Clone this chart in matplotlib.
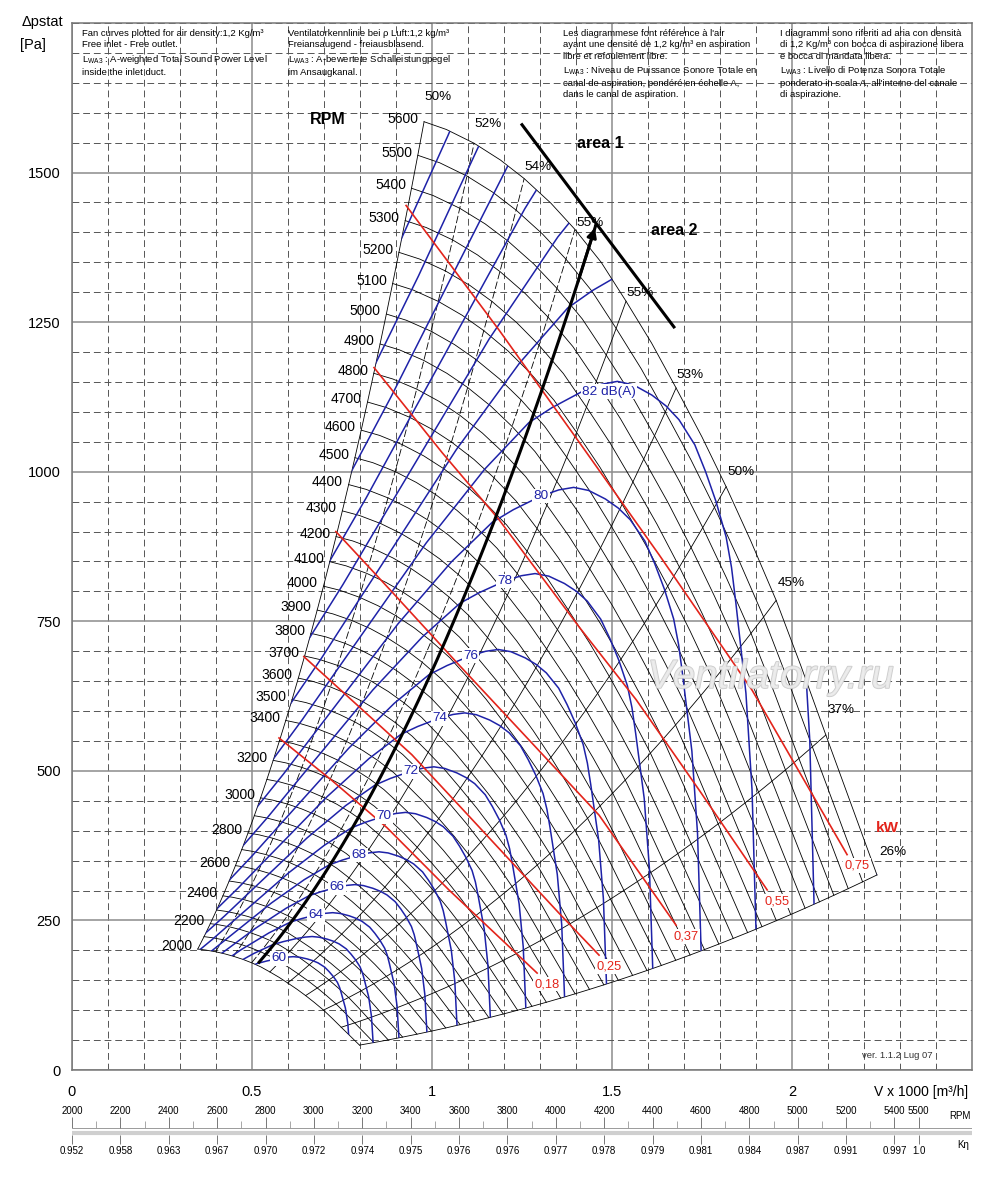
import numpy as np
import matplotlib
matplotlib.use('Agg')
import matplotlib.pyplot as plt
import matplotlib.patheffects as pe
from matplotlib.patches import Polygon
from matplotlib.ticker import MultipleLocator

plt.rcParams['font.family'] = ['Liberation Sans', 'DejaVu Sans']

# fan curve at top speed, V x 1000 m3/h vs static pressure Pa
base_rpm = 5600
base_v = [0.978, 1.04, 1.117, 1.19, 1.256, 1.33, 1.397, 1.47, 1.539, 1.61,
          1.678, 1.75, 1.817, 1.885, 1.956, 2.025, 2.094, 2.165, 2.236]
base_p = [1585, 1572, 1549, 1521, 1490, 1449, 1405, 1350, 1285, 1215,
          1140, 1058, 975, 885, 785, 675, 560, 443, 326]

rpm_curves = [2000, 2100, 2200, 2300, 2400, 2500, 2600, 2700, 2800, 2900,
              3000, 3100, 3200, 3300, 3400, 3500, 3600, 3700, 3800, 3900,
              4000, 4100, 4200, 4300, 4400, 4500, 4600, 4700, 4800, 4900,
              5000, 5100, 5200, 5300, 5400, 5500, 5600]
rpm_labels = [2000, 2200, 2400, 2600, 2800, 3000, 3200, 3400, 3500, 3600,
              3700, 3800, 3900, 4000, 4100, 4200, 4300, 4400, 4500, 4600,
              4700, 4800, 4900, 5000, 5100, 5200, 5300, 5400, 5500, 5600]

# efficiency (system) lines, end point on the top speed curve
eff_v = [0.978, 1.117, 1.256, 1.397, 1.539, 1.678, 1.817, 1.956, 2.094, 2.236]
eff_p = [1585, 1549, 1490, 1405, 1285, 1140, 975, 785, 560, 326]
eff_labels = ['50%', '52%', '54%', '55%', '55%', '53%', '50%', '45%', '37%', '26%']
eff_label_v = [1.017, 1.156, 1.294, 1.439, 1.578, 1.717, 1.858, 1.997, 2.136, 2.281]
eff_label_p = [1626, 1581, 1509, 1416, 1299, 1162, 1000, 814, 602, 364]

# operating line with arrow and the area border
thick_v = 1.455
thick_p = 1412
area_v = [1.25, 1.672]
area_p = [1580, 1242]

# absorbed power lines (kW)
kw_labels = ['0,18', '0,25', '0,37', '0,55', '0,75']
kw_v = [[0.575, 0.72, 0.875, 1.047, 1.292],
        [0.644, 0.944, 1.094, 1.353, 1.464],
        [0.733, 0.889, 1.075, 1.269, 1.464, 1.678],
        [0.839, 1.028, 1.186, 1.408, 1.567, 1.742, 1.931],
        [0.928, 1.186, 1.408, 1.631, 1.889, 2.153]]
kw_p = [[555, 485, 405, 301, 162],
        [691, 527, 430, 262, 192],
        [900, 799, 677, 552, 426, 242],
        [1174, 1032, 920, 741, 619, 468, 301],
        [1445, 1237, 1050, 861, 635, 360]]

# sound power contours: 82 dB(A) line as read, other levels follow fan laws
db_ref_rpm = 3180
db_v = [0.53, 0.547, 0.639, 0.747, 0.851, 0.984, 1.146, 1.269, 1.333, 1.417,
        1.47, 1.515, 1.56, 1.611, 1.65, 1.686, 1.73, 1.76, 1.789, 1.817,
        1.832, 1.844, 1.872, 1.889, 1.9, 1.905]
db_p = [495, 510, 585, 678, 767, 881, 1004, 1082, 1107, 1134,
        1146, 1151, 1145, 1128, 1110, 1087, 1045, 1000, 950, 891,
        840, 781, 630, 468, 234, 150]
db_levels = [60, 62, 64, 66, 68, 70, 72, 74, 76, 78, 80, 82, 84, 86, 88, 90, 92, 94]
db_rpm = [1290, 1400, 1520, 1650, 1790, 1945, 2110, 2290, 2485, 2700, 2925,
          3180, 3450, 3745, 4065, 4410, 4790, 5195]
db_labelled = [60, 64, 66, 68, 70, 72, 74, 76, 78, 80, 82]
db_label_v = 1.417
db_label_p = 1134

# bottom scales
scale_rpm = [2000, 2200, 2400, 2600, 2800, 3000, 3200, 3400, 3600, 3800,
             4000, 4200, 4400, 4600, 4800, 5000, 5200, 5400, 5500]
scale_minor = [2100, 2300, 2500, 2700, 2900, 3100, 3300, 3500, 3700, 3900,
               4100, 4300, 4500, 4700, 4900, 5100, 5300]
k_eta = ['0.952', '0.958', '0.963', '0.967', '0.970', '0.972', '0.974', '0.975',
         '0.976', '0.976', '0.977', '0.978', '0.979', '0.981', '0.984', '0.987',
         '0.991', '0.997', '1.0']

BLUE = '#1e22a8'
RED = '#e3241b'

fig = plt.figure(figsize=(10, 11.84), dpi=100)
ax = fig.add_axes([0.072, 1 - 1070 / 1184, 0.9, 1047 / 1184])
ax.set_xlim(0, 2.5)
ax.set_ylim(0, 1750)
ax.set_xticks([0, 0.5, 1, 1.5, 2])
ax.set_xticklabels(['0', '0.5', '1', '1.5', '2'])
ax.set_yticks([0, 250, 500, 750, 1000, 1250, 1500])
ax.xaxis.set_minor_locator(MultipleLocator(0.1))
ax.yaxis.set_minor_locator(MultipleLocator(50))
ax.grid(which='minor', color='#555555', ls=(0, (7, 4)), lw=0.7)
ax.grid(which='major', color='#8c8c8c', lw=1.1)
ax.set_axisbelow(True)
ax.tick_params(which='both', length=0, labelsize=10.5)
ax.tick_params(axis='x', pad=11)
ax.tick_params(axis='y', pad=8)
for s in ax.spines.values():
    s.set_color('#777777')
    s.set_linewidth(1.1)

V = np.array(base_v)
P = np.array(base_p)
ratios = np.array(rpm_curves) / base_rpm
r0 = ratios[0]

# region covered by the fan, used to clip the sound lines
verts = np.concatenate([
    np.column_stack([V, P]),
    np.column_stack([V[-1] * ratios[::-1], P[-1] * ratios[::-1] ** 2]),
    np.column_stack([V[::-1] * r0, P[::-1] * r0 ** 2]),
    np.column_stack([V[0] * ratios, P[0] * ratios ** 2]),
])
region = Polygon(verts, closed=True, fill=False, edgecolor='none',
                 transform=ax.transData)
ax.add_patch(region)

# speed curves
for r in ratios:
    ax.plot(V * r, P * r * r, color='k', lw=0.6, zorder=2)

for n in rpm_labels:
    r = n / base_rpm
    ax.annotate(str(n), (V[0] * r, P[0] * r * r), xytext=(-4, 2),
                textcoords='offset points', ha='right', va='center',
                fontsize=10, zorder=6)

# efficiency lines
for i, (ve, pe_) in enumerate(zip(eff_v, eff_p)):
    ls = (0, (9, 3)) if i in (1, 2, 3) else '-'
    ax.plot(ve * ratios, pe_ * ratios ** 2, color='k', lw=0.6, ls=ls, zorder=2)
for lab, lv, lp in zip(eff_labels, eff_label_v, eff_label_p):
    ax.text(lv, lp, lab, ha='center', va='center', fontsize=9.7, zorder=6)

# sound power lines
for lev, n in zip(db_levels, db_rpm):
    f = n / db_ref_rpm
    line, = ax.plot(np.array(db_v) * f, np.array(db_p) * f * f,
                    color=BLUE, lw=1.1, zorder=3)
    line.set_clip_path(region)
    if lev in db_labelled:
        lx, ly = db_label_v * f, db_label_p * f * f
        txt = '82 dB(A)' if lev == 82 else str(lev)
        ax.text(lx, ly, txt, ha='left' if lev == 82 else 'center',
                va='center', color=BLUE, fontsize=9.7, zorder=7,
                bbox=dict(boxstyle='square,pad=0.1', fc='white', ec='none'))

# power lines
for lab, xs, ys in zip(kw_labels, kw_v, kw_p):
    ax.plot(xs, ys, color=RED, lw=1.2, zorder=4)
    ax.annotate(lab, (xs[-1], ys[-1]), xytext=(7, -8),
                textcoords='offset points', ha='center', va='center',
                color=RED, fontsize=9.3, zorder=7,
                bbox=dict(boxstyle='square,pad=0.1', fc='white', ec='none'))
ax.text(2.264, 404, 'kW', color=RED, fontsize=11, fontweight='bold',
        ha='center', va='center', zorder=7)

# operating line and area border
tx = thick_v * ratios
ty = thick_p * ratios ** 2
ax.plot(tx, ty, color='k', lw=2.2, zorder=5)
ax.annotate('', xy=(tx[-1], ty[-1]), xytext=(tx[-3], ty[-3]),
            arrowprops=dict(arrowstyle='-|>', color='k', lw=2,
                            mutation_scale=14), zorder=5)
ax.plot(area_v, area_p, color='k', lw=2.2, zorder=5)
ax.text(1.467, 1549, 'area 1', fontsize=11.5, fontweight='bold',
        ha='center', va='center', zorder=7)
ax.text(1.672, 1404, 'area 2', fontsize=11.5, fontweight='bold',
        ha='center', va='center', zorder=7)
ax.text(0.711, 1588, 'RPM', fontsize=11.5, fontweight='bold',
        ha='center', va='center', zorder=7)

wm = ax.text(1.94, 657, 'Ventilatorry.ru', fontsize=29, style='italic',
             color='#ececec', alpha=0.85, ha='center', va='center', zorder=8)
wm.set_path_effects([pe.withStroke(linewidth=1.2, foreground='#c4c4c4')])
ax.text(2.194, 25, 'ver. 1.1.2 Lug 07', fontsize=6.8, ha='left',
        va='center', color='#333333', zorder=7)

# header notes
notes = [
    (0.082, "Fan curves plotted for air density:1,2 Kg/m³\n"
            "Free inlet - Free outlet.\n"
            r"L$_\mathregular{WA3}$ : A-weighted Total Sound Power Level" "\n"
            "inside the inlet duct."),
    (0.288, "Ventilatorkennlinie bei ρ Luft:1,2 kg/m³\n"
            "Freiansaugend - freiausblasend.\n"
            r"L$_\mathregular{WA3}$ : A-bewertete Schalleistungpegel" "\n"
            "im Ansaugkanal."),
    (0.563, "Les diagrammese font référence à l'air\n"
            "ayant une densité de 1,2 kg/m³ en aspiration\n"
            "libre et refoulement libre.\n"
            r"L$_\mathregular{WA3}$ : Niveau de Puissance Sonore Totale en" "\n"
            "canal de aspiration, pondéré en échelle A,\n"
            "dans le canal de aspiration."),
    (0.780, "I diagrammi sono riferiti ad aria con densità\n"
            "di 1,2 Kg/m³ con bocca di aspirazione libera\n"
            "e bocca di mandata libera.\n"
            r"L$_\mathregular{WA3}$ : Livello di Potenza Sonora Totale" "\n"
            "ponderato in scala A, all'interno del canale\n"
            "di aspirazione."),
]
for x0, txt in notes:
    fig.text(x0, 1 - 29 / 1184, txt, fontsize=6.8, ha='left', va='top',
             linespacing=1.35)

fig.text(0.022, 1 - 22 / 1184, 'Δpstat', fontsize=10.5, ha='left', va='center')
fig.text(0.020, 1 - 45 / 1184, '[Pa]', fontsize=10.5, ha='left', va='center')
fig.text(0.968, 1 - 1092 / 1184, 'V x 1000 [m³/h]', fontsize=10,
         ha='right', va='center')

# speed and efficiency-correction scales
sc = fig.add_axes([0.072, 1 - 1160 / 1184, 0.9, 60 / 1184])
sc.set_xlim(2000, 2000 + 900 / 0.2419)
sc.set_ylim(0, 60)
sc.axis('off')
sc.hlines(32, 2000, 2000 + 900 / 0.2419, color='#9a9a9a', lw=0.7)
sc.hlines(27, 2000, 2000 + 900 / 0.2419, color='#cfcfcf', lw=3)
sc.vlines(scale_rpm, 32, 43, color='#777777', lw=0.7)
sc.vlines(scale_minor, 32, 39, color='#999999', lw=0.6)
sc.vlines(scale_rpm, 16, 25, color='#777777', lw=0.7)
for n, k in zip(scale_rpm, k_eta):
    sc.text(n, 49, str(n), fontsize=7, ha='center', va='center')
    sc.text(n, 9, k, fontsize=7, ha='center', va='center')
sc.text(5671, 44, 'RPM', fontsize=7, ha='center', va='center')
sc.text(5683, 15, 'Kη', fontsize=7, ha='center', va='center')

fig.savefig('out.png', dpi=100)
